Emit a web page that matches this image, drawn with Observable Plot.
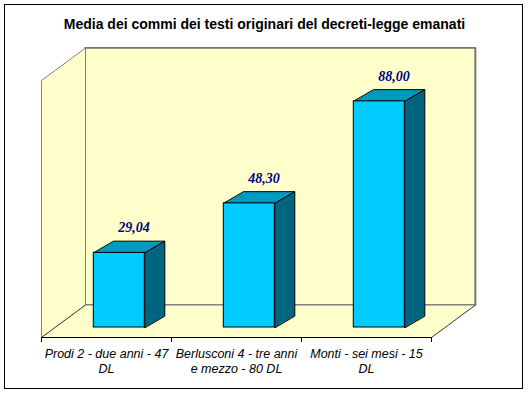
<!DOCTYPE html>
<html>
<head>
<meta charset="utf-8">
<script src="https://cdn.jsdelivr.net/npm/d3@7"></script>
<script src="https://cdn.jsdelivr.net/npm/@observablehq/plot@0.6"></script>
<style>
  html, body { margin: 0; padding: 0; background: #fff; }
  #wrap { position: relative; width: 529px; height: 393px; overflow: hidden; }
  #border { position: absolute; left: 4px; top: 4px; width: 517px; height: 383px; border: 1px solid #000; pointer-events: none; }
  #title { position: absolute; left: 0; top: 16px; width: 529px; text-align: center;
           font: bold 14px "Liberation Sans", Arial, sans-serif; color: #000; }
  #chart { position: absolute; left: 0; top: 0; }
  #chart svg { background: transparent; overflow: visible; }
</style>
</head>
<body>
<div id="wrap">
  <div id="chart"></div>
  <div id="title">Media dei commi dei testi originari del decreti-legge emanati</div>
  <div id="border"></div>
</div>
<script>
// ---- data ----
const categories = ["Prodi 2 - due anni - 47 DL", "Berlusconi 4 - tre anni e mezzo - 80 DL", "Monti - sei mesi - 15 DL"];
const tickLabels = ["Prodi 2 - due anni - 47\nDL", "Berlusconi 4 - tre anni\ne mezzo - 80 DL", "Monti - sei mesi - 15\nDL"];
const values = [29.04, 48.30, 88.00];
const valueLabels = ["29,04", "48,30", "88,00"];

// ---- layout ----
const W = 529, H = 393;
const mL = 41, mR = 98, mT = 80, mB = 56;
const yMax = 100;
const kx = (W - mL - mR) / categories.length;   // px per category unit
const ky = (H - mT - mB) / yMax;                 // px per value unit
const DX = 44 / kx, DY = 32.5 / ky;              // wall depth
const BSX = 12.8 / kx, BSY = 10 / ky;            // bar plane shift
const BW = 51 / kx;                               // bar width
const BDX = 20 / kx, BDY = 11.7 / ky;            // bar depth

const n = categories.length;
const bars = values.map((v, i) => {
  const c = i + 0.5 + BSX;
  return {i, v, xl: c - BW / 2, xr: c + BW / 2, base: BSY, top: BSY + v};
});
const topFaces = bars.flatMap(b => [
  {id: b.i, x: b.xl, y: b.top}, {id: b.i, x: b.xr, y: b.top},
  {id: b.i, x: b.xr + BDX, y: b.top + BDY}, {id: b.i, x: b.xl + BDX, y: b.top + BDY}
]);
const sideFaces = bars.flatMap(b => [
  {id: b.i, x: b.xr, y: b.base}, {id: b.i, x: b.xr, y: b.top},
  {id: b.i, x: b.xr + BDX, y: b.top + BDY}, {id: b.i, x: b.xr + BDX, y: b.base + BDY}
]);
const leftWall = [[0, 0], [0, yMax], [DX, yMax + DY], [DX, DY]].map(([x, y]) => ({x, y}));
const floor = [[0, 0], [n, 0], [n + DX, DY], [DX, DY]].map(([x, y]) => ({x, y}));
const floorDiag = [
  {id: 0, x: 0, y: 0}, {id: 0, x: DX, y: DY},
  {id: 1, x: n, y: 0}, {id: 1, x: n + DX, y: DY}
];
const backEdge = [
  {x: DX, y: yMax + DY}, {x: n + DX, y: yMax + DY}, {x: n + DX, y: DY}
];
const labels = bars.map((b, i) => ({x: b.xl + BW / 2 + 14.7 / kx, y: b.top + BDY + 13.3 / ky, t: valueLabels[i]}));

const chart = Plot.plot({
  width: W, height: H,
  marginLeft: mL, marginRight: mR, marginTop: mT, marginBottom: mB,
  x: {domain: [0, n]},
  y: {domain: [0, yMax], axis: null},
  style: {background: "transparent", overflow: "visible"},
  marks: [
    // walls
    Plot.rect([0], {x1: DX, x2: n + DX, y1: DY, y2: yMax + DY, fill: "#FFFFCC", stroke: "#808080", strokeWidth: 1}),
    Plot.line(backEdge, {x: "x", y: "y", stroke: "#707070", strokeWidth: 1.6}),
    Plot.line(leftWall, {x: "x", y: "y", curve: "linear-closed", fill: "#FFFFCC", stroke: "#808080", strokeWidth: 1}),
    Plot.line(floor, {x: "x", y: "y", curve: "linear-closed", fill: "#FFFFCC", stroke: "none"}),
    Plot.line(floorDiag, {x: "x", y: "y", z: "id", stroke: "#333", strokeWidth: 1}),
    Plot.ruleY([DY], {x1: DX, x2: n + DX, stroke: "#808080"}),
    // bars
    Plot.line(topFaces, {x: "x", y: "y", z: "id", curve: "linear-closed", fill: "#0099BF", stroke: "#000", strokeWidth: 1}),
    Plot.line(sideFaces, {x: "x", y: "y", z: "id", curve: "linear-closed", fill: "#006680", stroke: "#000", strokeWidth: 1}),
    Plot.rect(bars, {x1: "xl", x2: "xr", y1: "base", y2: "top", fill: "#00CCFF", stroke: "#000", strokeWidth: 1}),
    // value labels
    Plot.text(labels, {x: "x", y: "y", text: "t", fill: "#000080", fontSize: 14, fontWeight: "bold", fontStyle: "italic",
      fontFamily: "'Liberation Serif', 'Times New Roman', serif"}),
    // x axis
    Plot.ruleY([0], {stroke: "#000", strokeWidth: 1}),
    Plot.axisX({ticks: d3.range(n + 1), tickSize: 5, tickFormat: () => "", stroke: "#000"}),
    Plot.axisX({ticks: d3.range(n).map(i => i + 0.5), tickSize: 0, tickPadding: 9,
      tickFormat: d => tickLabels[Math.floor(d)], lineHeight: 1.25,
      fontSize: 12.5, fontStyle: "italic", fill: "#000",
      fontFamily: "'Liberation Sans', Arial, sans-serif"})
  ]
});
document.getElementById("chart").appendChild(chart);
</script>
</body>
</html>
